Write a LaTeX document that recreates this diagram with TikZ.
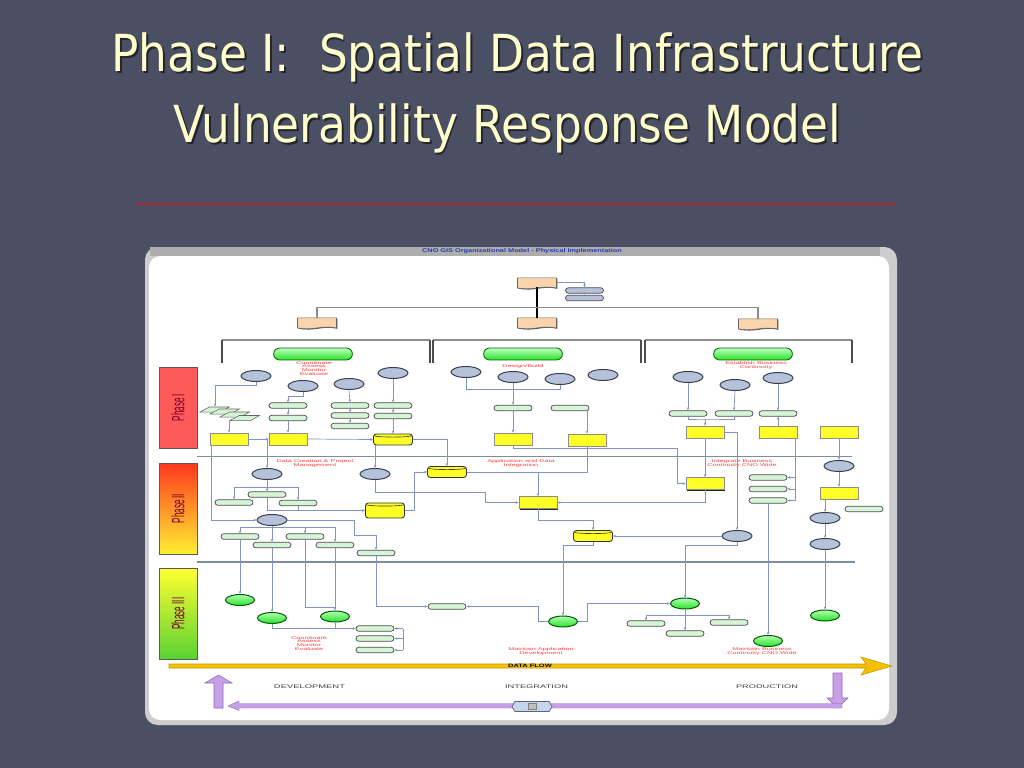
\documentclass[tikz,border=0pt]{standalone}
\usepackage{fontspec}
\setmainfont{Liberation Sans}
\newfontfamily\titre{DejaVu Sans}[FakeStretch=0.89]
\usetikzlibrary{shapes.geometric,shapes.symbols,shapes.misc,shadows,arrows.meta}
\definecolor{fond}{RGB}{75,79,99}
\definecolor{creme}{RGB}{255,255,204}
\definecolor{ombre}{RGB}{35,36,44}
\definecolor{filet}{RGB}{165,40,48}
\definecolor{fil}{RGB}{130,148,196}
\definecolor{bleuov}{RGB}{182,194,218}
\definecolor{bordov}{RGB}{55,62,82}
\definecolor{vertpale}{RGB}{214,245,214}
\definecolor{jaune}{RGB}{255,255,40}
\definecolor{peche}{RGB}{250,212,172}
\definecolor{vif}{RGB}{40,225,40}
\definecolor{rougetxt}{RGB}{255,60,60}
\definecolor{marron}{RGB}{120,0,40}
\definecolor{mauve}{RGB}{200,160,232}
\definecolor{mauvefonce}{RGB}{140,105,185}
\definecolor{dore}{RGB}{245,192,0}
\definecolor{cadre}{RGB}{205,205,205}
\definecolor{bleutitre}{RGB}{40,60,170}
\definecolor{sep}{RGB}{125,140,165}
\newcommand{\tasse}[1]{\scalebox{1}[0.55]{\begin{tabular}{@{}c@{}}#1\end{tabular}}}
\newcommand{\ombrage}[1]{\rlap{\hspace{1.4pt}\raisebox{-1.4pt}{\textcolor{ombre}{#1}}}#1}
\tikzset{
  ovale/.style={ellipse, draw=bordov, line width=0.7pt, fill=bleuov, minimum width=21.3pt, minimum height=7.8pt, inner sep=0pt},
  pilule/.style={rounded rectangle, draw=black!70, line width=0.5pt, fill=vertpale, minimum width=27pt, minimum height=3.9pt, inner sep=0pt},
  fiche/.style={rectangle, draw=black!45, line width=0.4pt, fill=jaune, minimum width=27pt, minimum height=8.5pt, inner sep=0pt, drop shadow={shadow xshift=0.8pt, shadow yshift=-0.8pt, fill=black!85, opacity=1}},
  baril/.style={rectangle, rounded corners=2pt, draw=black!80, line width=0.6pt, fill=jaune, minimum width=27.7pt, minimum height=7.8pt, inner sep=0pt,
    path picture={\draw[black!75, line width=0.45pt] ([yshift=-0.9pt]path picture bounding box.north west) .. controls ([yshift=-2.6pt]path picture bounding box.north west) and ([yshift=-2.6pt]path picture bounding box.north east) .. ([yshift=-0.9pt]path picture bounding box.north east);}},
  doc/.style={tape, tape bend top=none, tape bend height=1.2pt, draw=black!60, line width=0.5pt, fill=peche, minimum width=27.7pt, minimum height=7.8pt, inner sep=0pt, drop shadow={shadow xshift=0.7pt, shadow yshift=-0.5pt, fill=black!75, opacity=1}},
  capsule/.style={rounded rectangle, draw=green!40!black, line width=0.6pt, top color=green!25!white, bottom color=vif, minimum width=56pt, minimum height=8.5pt, inner sep=0pt},
  vert/.style={ellipse, draw=green!35!black, line width=0.7pt, top color=green!30!white, bottom color=vif, minimum width=20.6pt, minimum height=7.8pt, inner sep=0pt},
  para/.style={trapezium, trapezium left angle=50, trapezium right angle=128, trapezium stretches=true, draw=black!60, line width=0.4pt, fill=vertpale, minimum width=21pt, minimum height=3.6pt, inner sep=0.5pt},
  phase/.style={rectangle, draw=black!65, line width=0.6pt, minimum width=27pt, inner sep=0pt},
  rouge/.style={text=rougetxt, inner sep=0pt, font=\fontsize{5.2}{4.4}\selectfont},
  texte/.style={text=black!75, inner sep=0pt},
  lien/.style={color=fil, line width=0.5pt},
  fleche/.style={color=fil, line width=0.5pt, -{Stealth[length=2.2pt,width=1.8pt]}}
}
\begin{document}
\begin{tikzpicture}[x=0.025cm, y=-0.025cm] % un pixel par unite
\useasboundingbox (0,0) rectangle (1024,768);
\fill[fond] (0,0) rectangle (1024,768); % le fond de la diapo
% le titre
\node[anchor=base, text=creme, font=\titre\fontsize{36.3}{40}\selectfont] (titre1) at (517.5,72) {\ombrage{Phase I:\ \ Spatial Data Infrastructure}};
\node[anchor=base, text=creme, font=\titre\fontsize{36.3}{40}\selectfont] (titre2) at (507.5,143) {\ombrage{Vulnerability Response Model}};
\draw[filet, line width=0.8pt] (135,204) -- (895,204); % le filet rouge
% le cadre de l'image
\fill[cadre, rounded corners=9pt] (145,247) rectangle (897,725);
\fill[black!32] (150,247) rectangle (880,256);
\fill[white, rounded corners=8pt] (149,256) rectangle (889,720);
\node[text=bleutitre, inner sep=0pt] (entete) at (522,251.5) {\resizebox{142pt}{2.8pt}{\bfseries CNO GIS Organizational Model - Physical Implementation}};
% le haut de l'organigramme
\node[doc] (d0) at (537,282.5) {};
\node[pilule, fill=bleuov] (pA) at (584.5,290.5) {};
\node[pilule, fill=bleuov] (pB) at (584.5,298) {};
\node[doc] (d1) at (317,322.5) {};
\node[doc] (d2) at (537,322.5) {};
\node[doc] (d3) at (758,323.5) {};
\draw[fleche] (d0.east) -| (pA.north);
\draw[fleche] (pA.south) -- (pB.north);
\draw[black, line width=1pt] (d0.south) -- (d2.north);
\draw[black!45, line width=0.9pt] (d1.north) -- ++(0,-10) -| (d3.north);
% les accolades
\draw[black!45, line width=0.9pt] (222,340) -- (430,340);
\draw[black!45, line width=0.9pt] (433,340) -- (641,340);
\draw[black!45, line width=0.9pt] (645,340) -- (852,340);
\draw[black!70, line width=1.3pt] (222,340) -- (222,363);
\draw[black!70, line width=1.3pt] (430,340) -- (430,363);
\draw[black!70, line width=1.3pt] (433,340) -- (433,363);
\draw[black!70, line width=1.3pt] (641,340) -- (641,363);
\draw[black!70, line width=1.3pt] (645,340) -- (645,363);
\draw[black!70, line width=1.3pt] (852,340) -- (852,363);
\node[capsule] (k1) at (313,354) {};
\node[capsule] (k2) at (523,354) {};
\node[capsule] (k3) at (753,354) {};
% les textes rouges
\node[rouge] (l1) at (314,369) {\tasse{Coordinate\\Assess\\Monitor\\Evaluate}};
\node[rouge] (l2) at (523,366.5) {\tasse{Design/Build}};
\node[rouge] (l3) at (756,366) {\tasse{Establish Business\\Continuity}};
\node[rouge] (l4) at (315,463.5) {\tasse{Data Creation \& Project\\Management}};
\node[rouge] (l5) at (521,463.5) {\tasse{Application and Data\\Integration}};
\node[rouge] (l6) at (742,463.5) {\tasse{Integrate Business\\Continuity CNO Wide}};
\node[rouge] (l7) at (309,644) {\tasse{Coordinate\\Assess\\Monitor\\Evaluate}};
\node[rouge] (l8) at (541,651.5) {\tasse{Maintain Application\\Development}};
\node[rouge] (l9) at (762,651.5) {\tasse{Maintain Business\\Continuity CNO Wide}};
% les phases
\node[phase, minimum height=57.6pt, fill={rgb,255:red,255;green,90;blue,90}] (ph1) at (178,407.5) {};
\node[phase, minimum height=64.7pt, top color={rgb,255:red,255;green,55;blue,30}, bottom color={rgb,255:red,255;green,240;blue,50}] (ph2) at (178,508.5) {};
\node[phase, minimum height=64.7pt, top color={rgb,255:red,255;green,255;blue,50}, bottom color={rgb,255:red,90;green,210;blue,50}] (ph3) at (178,613.5) {};
\node[rotate=90, text=marron, inner sep=0pt, font=\fontsize{12.7}{13}\selectfont] (tp1) at (ph1) {\scalebox{0.45}[1]{Phase I}};
\node[rotate=90, text=marron, inner sep=0pt, font=\fontsize{12.7}{13}\selectfont] (tp2) at (ph2) {\scalebox{0.45}[1]{Phase II}};
\node[rotate=90, text=marron, inner sep=0pt, font=\fontsize{12.7}{13}\selectfont] (tp3) at (ph3) {\scalebox{0.45}[1]{Phase III}};
\draw[sep, line width=0.8pt] (197,456.5) -- (852,456.5); % separation I / II
\draw[sep, line width=0.8pt] (197,562) -- (855,562); % separation II / III
% phase I
\node[ovale] (o1) at (256,376) {};
\node[ovale] (o2) at (303,386) {};
\node[ovale] (o3) at (349,384) {};
\node[ovale] (o4) at (393,373) {};
\node[ovale] (o5) at (466,372) {};
\node[ovale] (o6) at (513,377) {};
\node[ovale] (o7) at (560,379) {};
\node[ovale] (o8) at (603,375) {};
\node[ovale] (o9) at (688,377) {};
\node[ovale] (o10) at (735,385) {};
\node[ovale] (o11) at (778,378) {};
\node[para] (a1) at (215,409.5) {};
\node[para] (a2) at (225,411.5) {};
\node[para] (a3) at (235,414.5) {};
\node[para] (a4) at (245,418) {};
\node[pilule] (p1) at (288,405.5) {};
\node[pilule] (p2) at (288,418) {};
\node[pilule] (p3) at (350,405.5) {};
\node[pilule] (p4) at (350,415.5) {};
\node[pilule] (p5) at (350,426) {};
\node[pilule] (p6) at (393,405.5) {};
\node[pilule] (p7) at (393,416) {};
\node[pilule] (p8) at (513,408) {};
\node[pilule] (p9) at (570,408) {};
\node[pilule] (p10) at (688,413.5) {};
\node[pilule] (p11) at (734,413.5) {};
\node[pilule] (p12) at (778,413.5) {};
\node[fiche] (f1) at (229,439) {};
\node[fiche] (f2) at (288,439) {};
\node[baril] (b1) at (393,439.5) {};
\node[fiche] (f3) at (513,439) {};
\node[fiche] (f4) at (587,440) {};
\node[fiche] (f5) at (705,432) {};
\node[fiche] (f6) at (778,432) {};
\node[fiche] (f7) at (839,432) {};
\draw[fleche] (o1.south) -- ++(0,3) -| (a1.north);
\draw[fleche] (f1.north |- a4.south) -- (f1.north);
\draw[fleche] (o2.south) -- ++(0,4) -| (p1.north);
\draw[fleche] (p1.south) -- (p2.north);
\draw[fleche] (p2.south) -- (f2.north);
\draw[fleche] (o3.south) -- (p3.north);
\draw[fleche] (p3.south) -- (p4.north);
\draw[fleche] (p4.south) -- (p5.north);
\draw[fleche] (o4.south) -- (p6.north);
\draw[fleche] (p6.south) -- (p7.north);
\draw[fleche] (p7.south) -- (b1.north);
\draw[fleche] (f1.east) -- (f2.west);
\draw[fleche] (f2.east) -- (b1.west);
\draw[lien] (o5.south) -- ++(0,11) -| (o7.south);
\draw[fleche] (o6.south) -- (p8.north);
\draw[fleche] (p8.south) -- (f3.north);
\draw[fleche] (f4.north |- p9.south) -- (f4.north);
\draw[fleche] (o9.south) -- (p10.north);
\draw[fleche] (o10.south) -- (p11.north);
\draw[fleche] (o11.south) -- (p12.north);
\coordinate (j1) at (705,419);
\draw[lien] (p10.south) |- (j1) -| (p11.south);
\draw[fleche] (j1) -- (f5.north);
\draw[fleche] (f6.north) -- (p12.south);
% phase II
\node[ovale] (o12) at (267,474) {};
\node[ovale] (o13) at (375,474) {};
\node[ovale] (o14) at (272,520) {};
\node[ovale] (o15) at (737,536) {};
\node[ovale] (o16) at (839,466) {};
\node[ovale] (o17) at (825,518) {};
\node[ovale] (o18) at (825,544) {};
\node[baril] (b2) at (447,472) {};
\node[baril, minimum height=10.7pt] (b3) at (385,510.5) {};
\node[baril] (b4) at (593,536) {};
\node[fiche] (f8) at (538,502.5) {};
\node[fiche] (f9) at (705,483.5) {};
\node[fiche] (f10) at (839,493) {};
\node[pilule] (p13) at (267,494.5) {};
\node[pilule] (p14) at (234,502.5) {};
\node[pilule] (p15) at (298,503) {};
\node[pilule] (p16) at (240,536.5) {};
\node[pilule] (p17) at (272,545) {};
\node[pilule] (p18) at (305,536.5) {};
\node[pilule] (p19) at (335,545) {};
\node[pilule] (p20) at (376,553) {};
\node[pilule] (p21) at (768,477.5) {};
\node[pilule] (p22) at (768,489) {};
\node[pilule] (p23) at (768,500.5) {};
\node[pilule] (p24) at (864,509) {};
\draw[fleche] ([xshift=1pt]f1.south west) |- (o14.west);
\draw[fleche] (o12.north |- f1.east) -- (o12.north);
\draw[fleche] (o13.north |- b1.south) -- (o13.north);
\draw[fleche] (b1.east) -| (b2.north);
\coordinate (j2) at (538,472);
\draw[lien] (f4.south) |- (j2);
\draw[lien] (b2.east) -- (j2);
\draw[fleche] (j2) -- (f8.north);
\coordinate (j3) at (677,448);
\draw[fleche] (f3.south) |- (j3) |- (f9.west);
\draw[fleche] (f5.south) -- (f9.north);
\draw[fleche] (f5.east) -| (o15.north);
\coordinate (j4) at (795,438);
\draw[lien] (j4) -- (j4 |- p23.east);
\draw[fleche] (p21.east -| j4) -- (p21.east);
\draw[fleche] (p22.east -| j4) -- (p22.east);
\draw[fleche] (p23.east -| j4) -- (p23.east);
\draw[fleche] (f7.south) -- (o16.north);
\draw[fleche] (o16.south) -- (f10.north);
\draw[fleche] (o17.north |- f10.south) -- (o17.north);
\draw[fleche] (o17.south) -- (o18.north);
\coordinate (j5) at (267,487);
\draw[lien] (o12.south) -- (j5);
\draw[fleche] (j5) -| (p14.north);
\draw[fleche] (j5) -| (p15.north);
\draw[fleche] (j5) -- (p13.north);
\draw[fleche] (p13.south) |- (b3.west);
\draw[lien] (p15.south) -- (p15.south |- b3.west);
\draw[fleche] (b3.east) -- ++(9,0) |- (b2.west);
\coordinate (j6) at (485,492);
\draw[fleche] (o13.south) |- (j6) |- (f8.west);
\draw[fleche] (f8.south) -- ++(0,12) -| (b4.north);
\draw[fleche] (f9.south) |- (f8.east);
\draw[fleche] (o15.west) -- (b4.east);
\coordinate (j7) at (272,527);
\draw[lien] (o14.south) -- (j7);
\draw[fleche] (j7) -| (p16.north);
\draw[fleche] (j7) -- (p17.north);
\draw[fleche] (j7) -| (p18.north);
\draw[fleche] (j7) -| (p19.north);
\coordinate (j8) at (354,535);
\draw[fleche] (o14.east) -| (j8) -| (p20.north);
% phase III
\node[vert] (v1) at (240,600) {};
\node[vert] (v2) at (272,618) {};
\node[vert] (v3) at (335,616.5) {};
\node[vert] (v4) at (563,621.5) {};
\node[vert] (v5) at (685,603.5) {};
\node[vert] (v6) at (768,641) {};
\node[vert] (v7) at (825,615.5) {};
\node[pilule] (p25) at (447,606.5) {};
\node[pilule] (p26) at (375,628.5) {};
\node[pilule] (p27) at (375,638.5) {};
\node[pilule] (p28) at (375,650) {};
\node[pilule] (p29) at (646,623.5) {};
\node[pilule] (p30) at (729,622.5) {};
\node[pilule] (p31) at (685,633.5) {};
\draw[fleche] (p16.south) -- (v1.north);
\draw[fleche] (p17.south) -- (v2.north);
\coordinate (j9) at (335,607);
\draw[lien] (p18.south) |- (j9);
\draw[fleche] (p19.south) -- (v3.north);
\draw[fleche] (p20.south) |- (p25.west);
\draw[fleche] (v2.south) |- (p26.west);
\draw[lien] (v3.south) -- (v3.south |- p26.west);
\coordinate (j10) at (403,628.5);
\coordinate (j11) at (403,650);
\draw[lien] (j10) -- (j11);
\draw[fleche] (j10) -- (p26.east);
\draw[fleche] (p27.east -| j10) -- (p27.east);
\draw[fleche] (j11) -- (p28.east);
\draw[fleche] (p23.south) -- (v6.north);
\draw[fleche] (o18.south) -- (v7.north);
\draw[fleche] (b4.south) -- ++(0,3) -| (v4.north);
\coordinate (j12) at (538,606.5);
\draw[fleche] (v4.west) -| (j12) -- (p25.east);
\draw[fleche] (v4.east) -- ++(9,0) |- (v5.west);
\draw[fleche] (o15.south) -- ++(0,3) -| (v5.north);
\coordinate (j13) at (685,615);
\draw[lien] (v5.south) -- (j13);
\draw[fleche] (j13) -| (p29.north);
\draw[fleche] (j13) -| (p30.north);
\draw[fleche] (j13) -- (p31.north);
% la fleche du flux de donnees
\draw[fill=dore, draw=dore!80!black, line width=0.4pt] (169,664) -- (866,664) -- (861,657) -- (892,666) -- (861,675) -- (866,668) -- (169,668) -- cycle;
\node[inner sep=0pt] (t4) at (530,666) {\resizebox{31pt}{2.4pt}{\bfseries DATA FLOW}};
\node[texte] (t1) at (309.5,687) {\resizebox{50.5pt}{2.6pt}{DEVELOPMENT}};
\node[texte] (t2) at (536.5,687) {\resizebox{44.8pt}{2.6pt}{INTEGRATION}};
\node[texte] (t3) at (767,687) {\resizebox{44pt}{2.6pt}{PRODUCTION}};
% les fleches mauves
\draw[fill=mauve, draw=mauvefonce, line width=0.4pt] (214,708) -- (214,683) -- (205,683) -- (218.5,675) -- (232,683) -- (223,683) -- (223,708) -- cycle;
\draw[fill=mauve, draw=mauvefonce, line width=0.4pt] (833,673) -- (842,673) -- (842,698) -- (848,698) -- (837.5,708) -- (827,698) -- (833,698) -- cycle;
\draw[fill=mauve, draw=mauvefonce, line width=0.3pt] (228,706) -- (239,701) -- (239,703.5) -- (842,703.5) -- (842,708) -- (239,708) -- (239,710.5) -- cycle;
\node[signal, signal to=west and east, signal pointer angle=120, draw=bordov!80, line width=0.5pt, fill={rgb,255:red,198;green,212;blue,238}, minimum width=28.5pt, minimum height=7pt, inner sep=0pt] (hexa) at (532,706.5) {};
\node[draw=black!50, fill=black!25, line width=0.3pt, minimum width=5.7pt, minimum height=4.5pt, inner sep=0pt] (icone) at (hexa) {};
\end{tikzpicture}
\end{document}
